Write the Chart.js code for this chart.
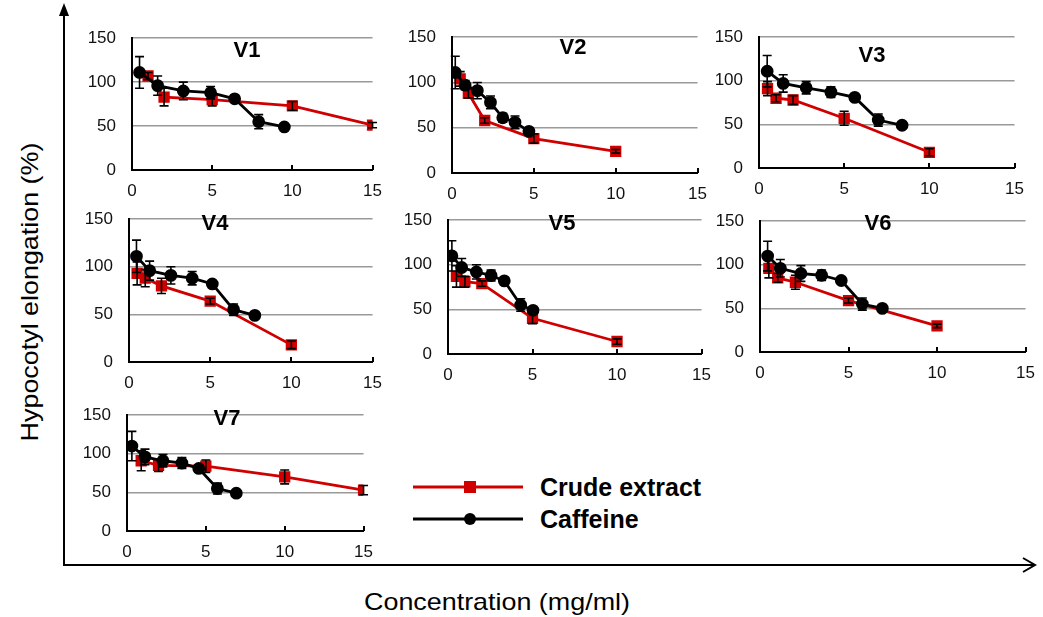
<!DOCTYPE html>
<html>
<head>
<meta charset="utf-8">
<script src="https://cdn.jsdelivr.net/npm/chart.js@4.4.0/dist/chart.umd.min.js"></script>
<style>
    body { margin: 0; width: 1043px; height: 617px; overflow: hidden; background: #fff; position: relative;
           font-family: "Liberation Sans", Arial, sans-serif; color: #000; }
    .panel { position: absolute; }
    .tag { position: absolute; font-weight: bold; font-size: 22px; transform: translate(-50%, -50%); }
    .legend-text { position: absolute; font-weight: bold; font-size: 25px; transform: translateY(-50%); white-space: nowrap; }
    #xTitle { position: absolute; left: 497px; top: 602px; font-size: 24px; white-space: nowrap;
              transform: translate(-50%, -50%) scaleX(1.12); }
    #yTitle { position: absolute; left: 30px; top: 292px; font-size: 24px; white-space: nowrap;
              transform: translate(-50%, -50%) rotate(-90deg) scaleX(1.12); }
    svg { position: absolute; left: 0; top: 0; }
</style>
</head>
<body>
<svg width="1043" height="617">
    <line x1="64" y1="12" x2="64" y2="565" stroke="#000" stroke-width="2"/>
    <polygon points="64,3 59,16 69,16" fill="#000"/>
    <line x1="63" y1="565" x2="1034" y2="565" stroke="#000" stroke-width="2"/>
    <polyline points="1023,558 1035,565 1023,572" fill="none" stroke="#000" stroke-width="2"/>
    <!-- legend -->
    <line x1="413" y1="487" x2="523" y2="487" stroke="#d00000" stroke-width="3"/>
    <rect x="464" y="481" width="12" height="12" fill="#d00000"/>
    <line x1="413" y1="519" x2="523" y2="519" stroke="#000" stroke-width="3"/>
    <circle cx="470" cy="519" r="6" fill="#000"/>
</svg>
<div class="legend-text" style="left:540px; top:487px">Crude extract</div>
<div class="legend-text" style="left:540px; top:519px">Caffeine</div>
<div id="xTitle">Concentration (mg/ml)</div>
<div id="yTitle">Hypocotyl elongation (%)</div>

<script>
const panelNames = ["V1", "V2", "V3", "V4", "V5", "V6", "V7"];
const xTicks = [0, 5, 10, 15];
const yTicks = [0, 50, 100, 150];

// Crude extract (red squares): concentration, elongation %, error
const v1CrudeX = [1, 2, 5, 10, 15];
const v1CrudeY = [107, 83, 80, 73, 51];
const v1CrudeErr = [4, 10, 7, 5, 3];
const v2CrudeX = [0.5, 1, 2, 5, 10];
const v2CrudeY = [104, 88, 58, 38, 24];
const v2CrudeErr = [8, 5, 3, 5, 2];
const v3CrudeX = [0.5, 1, 2, 5, 10];
const v3CrudeY = [91, 80, 78, 57, 18];
const v3CrudeErr = [8, 4, 5, 8, 4];
const v4CrudeX = [0.5, 1, 2, 5, 10];
const v4CrudeY = [93, 88, 80, 64, 18];
const v4CrudeErr = [12, 9, 8, 3, 4];
const v5CrudeX = [0.5, 1, 2, 5, 10];
const v5CrudeY = [87, 81, 79, 40, 14];
const v5CrudeErr = [12, 6, 3, 6, 3];
const v6CrudeX = [0.5, 1, 2, 5, 10];
const v6CrudeY = [96, 85, 80, 59, 30];
const v6CrudeErr = [11, 5, 8, 3, 2];
const v7CrudeX = [0.9, 2, 5, 10, 15];
const v7CrudeY = [91, 85, 84, 70, 53];
const v7CrudeErr = [13, 8, 8, 9, 6];

// Caffeine (black circles)
const v1CaffX = [0.47, 1.6, 3.2, 4.9, 6.4, 7.9, 9.5];
const v1CaffY = [111, 96, 90, 88, 81, 55, 49];
const v1CaffErr = [18, 11, 10, 7, 3, 8, 2];
const v2CaffX = [0.2, 0.8, 1.55, 2.35, 3.1, 3.85, 4.7];
const v2CaffY = [111, 97, 91, 78, 61, 56, 46];
const v2CaffErr = [18, 5, 9, 7, 5, 7, 3];
const v3CaffX = [0.48, 1.42, 2.77, 4.22, 5.62, 7.0, 8.4];
const v3CaffY = [111, 97, 92, 87, 81, 55, 49];
const v3CaffErr = [18, 10, 7, 6, 3, 7, 2];
const v4CaffX = [0.46, 1.27, 2.58, 3.89, 5.13, 6.44, 7.75];
const v4CaffY = [111, 96, 91, 88, 82, 55, 49];
const v4CaffErr = [17, 10, 9, 7, 3, 6, 2];
const v5CaffX = [0.23, 0.81, 1.68, 2.55, 3.33, 4.3, 5.03];
const v5CaffY = [110, 97, 92, 88, 82, 55, 49];
const v5CaffErr = [17, 10, 8, 6, 3, 7, 2];
const v6CaffX = [0.43, 1.15, 2.31, 3.48, 4.59, 5.78, 6.91];
const v6CaffY = [110, 96, 90, 88, 82, 55, 50];
const v6CaffErr = [17, 10, 9, 6, 3, 7, 2];
const v7CaffX = [0.31, 1.14, 2.28, 3.48, 4.55, 5.73, 6.93];
const v7CaffY = [110, 96, 91, 88, 81, 55, 49];
const v7CaffErr = [19, 10, 8, 7, 3, 7, 2];

const crudeX = [v1CrudeX, v2CrudeX, v3CrudeX, v4CrudeX, v5CrudeX, v6CrudeX, v7CrudeX];
const crudeY = [v1CrudeY, v2CrudeY, v3CrudeY, v4CrudeY, v5CrudeY, v6CrudeY, v7CrudeY];
const crudeErr = [v1CrudeErr, v2CrudeErr, v3CrudeErr, v4CrudeErr, v5CrudeErr, v6CrudeErr, v7CrudeErr];
const caffX = [v1CaffX, v2CaffX, v3CaffX, v4CaffX, v5CaffX, v6CaffX, v7CaffX];
const caffY = [v1CaffY, v2CaffY, v3CaffY, v4CaffY, v5CaffY, v6CaffY, v7CaffY];
const caffErr = [v1CaffErr, v2CaffErr, v3CaffErr, v4CaffErr, v5CaffErr, v6CaffErr, v7CaffErr];

// plot area of each panel on the page: left, top, right, bottom
const panelBoxes = [
    [132, 24, 377, 170],
    [452, 23, 702, 173],
    [759, 23, 1019, 168],
    [129, 205, 377, 362],
    [448, 206, 706, 354],
    [760, 207, 1030, 352],
    [127, 401, 368, 531]
];
// centre of the V-labels
const tagPos = [[247, 50], [573, 47], [872, 55], [215, 223], [562, 223], [878, 223], [227, 418]];

const RED = '#d00000';
const tickFont = { family: '"Liberation Sans", Arial, sans-serif', size: 17 };

// error bars + small inside ticks on x axis
const errorBars = {
    id: 'errorBars',
    afterDatasetsDraw(chart) {
        const ctx = chart.ctx;
        const ys = chart.scales.y, xs = chart.scales.x;
        ctx.save();
        ctx.strokeStyle = '#000';
        ctx.lineWidth = 1.6;
        chart.data.datasets.forEach((ds, di) => {
            const meta = chart.getDatasetMeta(di);
            meta.data.forEach((pt, j) => {
                const e = ds.errors[j];
                if (!e) return;
                const v = ds.data[j].y;
                const top = ys.getPixelForValue(v + e);
                const bot = ys.getPixelForValue(v - e);
                ctx.beginPath();
                ctx.moveTo(pt.x, top); ctx.lineTo(pt.x, bot);
                ctx.moveTo(pt.x - 4.5, top); ctx.lineTo(pt.x + 4.5, top);
                ctx.moveTo(pt.x - 4.5, bot); ctx.lineTo(pt.x + 4.5, bot);
                ctx.stroke();
            });
        });
        ctx.lineWidth = 2;
        xTicks.forEach(v => {
            if (v === 0) return;
            const px = Math.round(xs.getPixelForValue(v));
            ctx.beginPath();
            ctx.moveTo(px, ys.bottom);
            ctx.lineTo(px, ys.bottom - 5);
            ctx.stroke();
        });
        ctx.restore();
    }
};

function toPoints(xs, ys) {
    return xs.map((x, i) => ({ x: x, y: ys[i] }));
}

function makePanel(i) {
    const box = panelBoxes[i];
    const padL = 50, padT = 12, padR = 16, padB = 32;
    const w = box[2] - box[0] + padL + padR;
    const h = box[3] - box[1] + padT + padB;

    const wrap = document.createElement('div');
    wrap.className = 'panel';
    wrap.style.left = (box[0] - padL) + 'px';
    wrap.style.top = (box[1] - padT) + 'px';
    const canvas = document.createElement('canvas');
    canvas.width = w;
    canvas.height = h;
    canvas.style.width = w + 'px';
    canvas.style.height = h + 'px';
    wrap.appendChild(canvas);
    document.body.appendChild(wrap);

    new Chart(canvas, {
        type: 'line',
        data: {
            datasets: [
                {
                    label: 'Crude extract',
                    data: toPoints(crudeX[i], crudeY[i]),
                    errors: crudeErr[i],
                    borderColor: RED,
                    backgroundColor: RED,
                    borderWidth: 2.8,
                    pointStyle: 'rect',
                    pointRadius: 6,
                    order: 2
                },
                {
                    label: 'Caffeine',
                    data: toPoints(caffX[i], caffY[i]),
                    errors: caffErr[i],
                    borderColor: '#000',
                    backgroundColor: '#000',
                    borderWidth: 2.8,
                    pointStyle: 'circle',
                    pointRadius: 5,
                    order: 1
                }
            ]
        },
        options: {
            responsive: false,
            animation: false,
            layout: { padding: { left: 0, top: padT, right: padR, bottom: 0 } },
            plugins: { legend: { display: false }, tooltip: { enabled: false } },
            scales: {
                x: {
                    type: 'linear',
                    min: 0,
                    max: 15,
                    afterBuildTicks: s => { s.ticks = xTicks.map(v => ({ value: v })); },
                    afterFit: s => { s.height = padB; },
                    grid: { display: false, drawTicks: false },
                    border: { color: '#000', width: 2 },
                    ticks: { font: tickFont, color: '#111', padding: 11, maxRotation: 0 }
                },
                y: {
                    min: 0,
                    max: 150,
                    afterBuildTicks: s => { s.ticks = yTicks.map(v => ({ value: v })); },
                    afterFit: s => { s.width = padL; },
                    grid: { color: '#999', lineWidth: 1.5, drawTicks: false },
                    border: { color: '#000', width: 2 },
                    ticks: { font: tickFont, color: '#111', padding: 16 }
                }
            }
        },
        plugins: [errorBars]
    });

    const tag = document.createElement('div');
    tag.className = 'tag';
    tag.textContent = panelNames[i];
    tag.style.left = tagPos[i][0] + 'px';
    tag.style.top = tagPos[i][1] + 'px';
    document.body.appendChild(tag);
}

for (let i = 0; i < panelNames.length; i++) {
    makePanel(i);
}
</script>
</body>
</html>
